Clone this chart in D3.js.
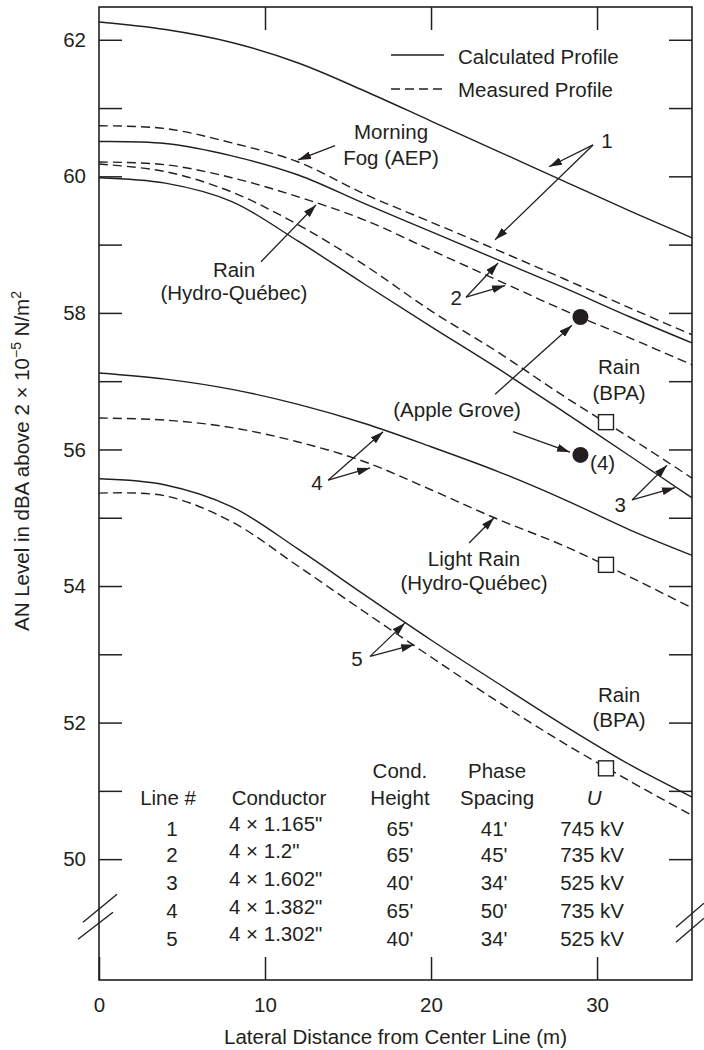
<!DOCTYPE html>
<html>
<head>
<meta charset="utf-8">
<script src="https://cdn.jsdelivr.net/npm/d3@7"></script>
<style>
  html, body { margin: 0; padding: 0; background: #fff; }
  svg { display: block; font-family: "Liberation Sans", Arial, Helvetica, sans-serif; }
  text { fill: #231f20; }
</style>
</head>
<body>
<svg id="chart" width="704" height="1050"></svg>
<script>
// ---- data ----
const distances = [0, 4, 8, 12, 16, 20, 24, 28, 32, 35.72];
const line1Calc = [62.26, 62.15, 61.96, 61.66, 61.25, 60.81, 60.37, 59.93, 59.49, 59.10];
const line1Meas = [60.74, 60.70, 60.49, 60.21, 59.74, 59.33, 58.92, 58.50, 58.07, 57.68];
const line2Calc = [60.51, 60.48, 60.30, 60.02, 59.60, 59.19, 58.78, 58.37, 57.94, 57.56];
const line2Meas = [60.21, 60.17, 59.98, 59.70, 59.36, 58.92, 58.48, 58.04, 57.63, 57.24];
const line3Calc = [59.98, 59.90, 59.63, 59.05, 58.42, 57.80, 57.19, 56.55, 55.90, 55.29];
const line3Meas = [60.18, 60.07, 59.77, 59.29, 58.70, 58.03, 57.43, 56.78, 56.17, 55.58];
const line4Calc = [57.12, 57.03, 56.88, 56.66, 56.38, 56.04, 55.68, 55.27, 54.82, 54.45];
const line4Meas = [56.46, 56.43, 56.32, 56.11, 55.82, 55.41, 54.98, 54.59, 54.13, 53.68];
const line5Calc = [55.57, 55.48, 55.16, 54.54, 53.87, 53.21, 52.58, 51.96, 51.38, 50.91];
const line5Meas = [55.36, 55.32, 54.94, 54.29, 53.62, 52.96, 52.31, 51.70, 51.14, 50.64];

const appleGrove = [[29, 57.94], [29, 55.92]];
const bpaPoints = [[30.54, 56.40], [30.54, 54.31], [30.54, 51.33]];

const yTickValues = [50, 51, 52, 53, 54, 55, 56, 57, 58, 59, 60, 61, 62];
const yTickLabels = ["50", "", "52", "", "54", "", "56", "", "58", "", "60", "", "62"];
const xTickValues = [0, 10, 20, 30];
const xTickLabels = ["0", "10", "20", "30"];

// annotation labels: text, distance, level
const noteLabels = [
  ["Morning", 17.59, 60.65],
  ["Fog (AEP)", 17.59, 60.27],
  ["Rain", 8.13, 58.63],
  ["(Hydro-Québec)", 8.13, 58.29],
  ["1", 30.6, 60.52],
  ["2", 21.51, 58.22],
  ["(Apple Grove)", 21.57, 56.58],
  ["Rain", 31.33, 57.21],
  ["(BPA)", 31.33, 56.83],
  ["3", 31.39, 55.19],
  ["4", 13.13, 55.51],
  ["Light Rain", 22.59, 54.40],
  ["(Hydro-Québec)", 22.59, 54.04],
  ["5", 15.54, 52.93],
  ["Rain", 31.33, 52.40],
  ["(BPA)", 31.33, 52.04]
];
const noteLabelsStart = [["(4)", 29.58, 55.80]];
const arrows = [
  [[14.22, 60.45], [11.99, 60.24]],
  [[9.76, 58.75], [13.07, 59.58]],
  [[29.76, 60.46], [27.11, 60.14]],
  [[29.76, 60.46], [23.86, 59.07]],
  [[22.11, 58.23], [24.04, 58.73]],
  [[22.11, 58.23], [24.46, 58.40]],
  [[23.86, 56.81], [28.49, 57.82]],
  [[24.94, 56.26], [28.37, 55.96]],
  [[32.11, 55.26], [34.22, 55.77]],
  [[32.11, 55.26], [34.70, 55.44]],
  [[13.80, 55.55], [17.11, 56.26]],
  [[13.80, 55.55], [16.33, 55.73]],
  [[22.29, 54.63], [23.80, 55.00]],
  [[16.33, 52.97], [18.43, 53.46]],
  [[16.33, 52.97], [18.98, 53.14]]
];

// table
const tableHeader1 = [["Cond.", 18.13], ["Phase", 23.98]];
const tableHeader2 = [["Line #", 4.16], ["Conductor", 10.84], ["Height", 18.13], ["Spacing", 23.98]];
const lineNumbers = ["1", "2", "3", "4", "5"];
const conductors = ['4 \u00d7 1.165"', '4 \u00d7 1.2"', '4 \u00d7 1.602"', '4 \u00d7 1.382"', '4 \u00d7 1.302"'];
const heights = ["65'", "65'", "40'", "65'", "40'"];
const spacings = ["41'", "45'", "34'", "50'", "34'"];
const voltages = ["745 kV", "735 kV", "525 kV", "735 kV", "525 kV"];
const rowLevels = [50.45, 50.06, 49.65, 49.24, 48.84];

// ---- drawing ----
(function () {
const svg = d3.select("#chart");
const ink = "#231f20";
const FS = 20.5;
const pLeft = 99, pRight = 692, pTop = 7, pBottom = 980;

const x = d3.scaleLinear().domain([0, 35.72]).range([pLeft, pRight]);
const y = d3.scaleLinear().domain([48.23, 62.48]).range([pBottom, pTop]);

// frame
svg.append("rect").attr("x", pLeft).attr("y", pTop)
  .attr("width", pRight - pLeft).attr("height", pBottom - pTop)
  .attr("fill", "none").attr("stroke", ink).attr("stroke-width", 1.6);

// axes
function styleAxis(g, showLabels) {
  g.select(".domain").remove();
  g.selectAll(".tick line").attr("stroke", ink).attr("stroke-width", 1.5);
  g.selectAll(".tick text").attr("font-size", FS).attr("fill", ink)
    .attr("font-family", "Liberation Sans, Arial, sans-serif");
  if (!showLabels) g.selectAll(".tick text").remove();
}
svg.append("g").attr("transform", `translate(${pLeft},0)`)
  .call(d3.axisLeft(y).tickValues(yTickValues).tickSizeInner(-23).tickSizeOuter(0)
    .tickPadding(13).tickFormat((d, i) => yTickLabels[i]))
  .call(g => styleAxis(g, true));
svg.append("g").attr("transform", `translate(${pRight},0)`)
  .call(d3.axisRight(y).tickValues(yTickValues).tickSizeInner(-23).tickSizeOuter(0))
  .call(g => styleAxis(g, false));
svg.append("g").attr("transform", `translate(0,${pBottom})`)
  .call(d3.axisBottom(x).tickValues(xTickValues).tickSizeInner(-23).tickSizeOuter(0)
    .tickPadding(17).tickFormat((d, i) => xTickLabels[i]))
  .call(g => styleAxis(g, true));
svg.append("g").attr("transform", `translate(0,${pTop})`)
  .call(d3.axisTop(x).tickValues(xTickValues.slice(1)).tickSizeInner(-23).tickSizeOuter(0))
  .call(g => styleAxis(g, false));

// axis breaks
const breakY = y(49.15);
const breaks = [
  [pLeft - 16, breakY + 5, pLeft + 18, breakY - 23],
  [pLeft - 21, breakY + 22, pLeft + 14, breakY - 5],
  [pRight - 16, breakY + 10, pRight + 12, breakY - 14],
  [pRight - 16, breakY + 25, pRight + 12, breakY + 1]
];
svg.append("g").selectAll("line").data(breaks).join("line")
  .attr("x1", d => d[0]).attr("y1", d => d[1]).attr("x2", d => d[2]).attr("y2", d => d[3])
  .attr("stroke", ink).attr("stroke-width", 1.4);

// axis titles
svg.append("text").attr("x", (pLeft + pRight) / 2).attr("y", 1044)
  .attr("text-anchor", "middle").attr("font-size", FS)
  .text("Lateral Distance from Center Line (m)");
const yt = svg.append("text").attr("transform", `translate(29,461) rotate(-90)`)
  .attr("text-anchor", "middle").attr("font-size", FS);
yt.append("tspan").text("AN Level in dBA above 2 \u00d7 10");
yt.append("tspan").attr("font-size", 14).attr("dy", -8).text("\u22125");
yt.append("tspan").attr("dy", 8).text(" N/m");
yt.append("tspan").attr("font-size", 14).attr("dy", -8).text("2");

// curves
const lineGen = d3.line().x((d, i) => x(distances[i])).y(d => y(d))
  .curve(d3.curveCatmullRom.alpha(0.5));
const series = [
  [line1Calc, false], [line1Meas, true],
  [line2Calc, false], [line2Meas, true],
  [line3Calc, false], [line3Meas, true],
  [line4Calc, false], [line4Meas, true],
  [line5Calc, false], [line5Meas, true]
];
svg.append("g").selectAll("path").data(series).join("path")
  .attr("d", d => lineGen(d[0]))
  .attr("fill", "none").attr("stroke", ink).attr("stroke-width", 1.4)
  .attr("stroke-dasharray", d => d[1] ? "9,5" : null);

// points
svg.append("g").selectAll("circle").data(appleGrove).join("circle")
  .attr("cx", d => x(d[0])).attr("cy", d => y(d[1])).attr("r", 8).attr("fill", ink);
svg.append("g").selectAll("rect").data(bpaPoints).join("rect")
  .attr("x", d => x(d[0]) - 7.5).attr("y", d => y(d[1]) - 7.5)
  .attr("width", 15).attr("height", 15)
  .attr("fill", "#fff").attr("stroke", ink).attr("stroke-width", 1.4);

// legend
const legend = svg.append("g");
const legendItems = [["Calculated Profile", null, 55, 57], ["Measured Profile", "9,5", 89, 90]];
legendItems.forEach(([label, dash, ly, ty]) => {
  legend.append("line").attr("x1", 391).attr("x2", 444).attr("y1", ly).attr("y2", ly)
    .attr("stroke", ink).attr("stroke-width", 1.4).attr("stroke-dasharray", dash);
  legend.append("text").attr("x", 458).attr("y", ty).attr("dy", "0.35em")
    .attr("font-size", FS).text(label);
});

// arrows
const defs = svg.append("defs");
defs.append("marker").attr("id", "ah").attr("viewBox", "0 0 13 8")
  .attr("refX", 13).attr("refY", 4).attr("markerWidth", 13).attr("markerHeight", 8)
  .attr("markerUnits", "userSpaceOnUse").attr("orient", "auto")
  .append("path").attr("d", "M0,0 L13,4 L0,8 z").attr("fill", ink);
svg.append("g").selectAll("line").data(arrows).join("line")
  .attr("x1", d => x(d[0][0])).attr("y1", d => y(d[0][1]))
  .attr("x2", d => x(d[1][0])).attr("y2", d => y(d[1][1]))
  .attr("stroke", ink).attr("stroke-width", 1.3).attr("marker-end", "url(#ah)");

// annotation labels
svg.append("g").selectAll("text").data(noteLabels).join("text")
  .attr("x", d => x(d[1])).attr("y", d => y(d[2])).attr("dy", "0.35em")
  .attr("text-anchor", "middle").attr("font-size", FS).text(d => d[0]);
svg.append("g").selectAll("text").data(noteLabelsStart).join("text")
  .attr("x", d => x(d[1])).attr("y", d => y(d[2])).attr("dy", "0.35em")
  .attr("text-anchor", "start").attr("font-size", FS).text(d => d[0]);

// table
const tbl = svg.append("g").attr("font-size", FS);
tbl.selectAll("text.h1").data(tableHeader1).join("text").attr("class", "h1")
  .attr("x", d => x(d[1])).attr("y", y(51.30)).attr("dy", "0.35em")
  .attr("text-anchor", "middle").text(d => d[0]);
tbl.selectAll("text.h2").data(tableHeader2).join("text").attr("class", "h2")
  .attr("x", d => x(d[1])).attr("y", y(50.90)).attr("dy", "0.35em")
  .attr("text-anchor", "middle").text(d => d[0]);
tbl.append("text").attr("x", x(29.82)).attr("y", y(50.90)).attr("dy", "0.35em")
  .attr("text-anchor", "middle").attr("font-style", "italic").text("U");
tbl.selectAll("text.ln").data(lineNumbers).join("text").attr("class", "ln")
  .attr("x", x(4.4)).attr("y", (d, i) => y(rowLevels[i])).attr("dy", "0.35em")
  .attr("text-anchor", "middle").text(d => d);
tbl.selectAll("text.cd").data(conductors).join("text").attr("class", "cd")
  .attr("x", x(7.83)).attr("y", (d, i) => y(rowLevels[i] + 0.06)).attr("dy", "0.35em")
  .attr("text-anchor", "start").text(d => d);
tbl.selectAll("text.ht").data(heights).join("text").attr("class", "ht")
  .attr("x", x(18.13)).attr("y", (d, i) => y(rowLevels[i])).attr("dy", "0.35em")
  .attr("text-anchor", "middle").text(d => d);
tbl.selectAll("text.sp").data(spacings).join("text").attr("class", "sp")
  .attr("x", x(23.8)).attr("y", (d, i) => y(rowLevels[i])).attr("dy", "0.35em")
  .attr("text-anchor", "middle").text(d => d);
tbl.selectAll("text.kv").data(voltages).join("text").attr("class", "kv")
  .attr("x", x(29.7)).attr("y", (d, i) => y(rowLevels[i])).attr("dy", "0.35em")
  .attr("text-anchor", "middle").text(d => d);
})();
</script>
</body>
</html>
